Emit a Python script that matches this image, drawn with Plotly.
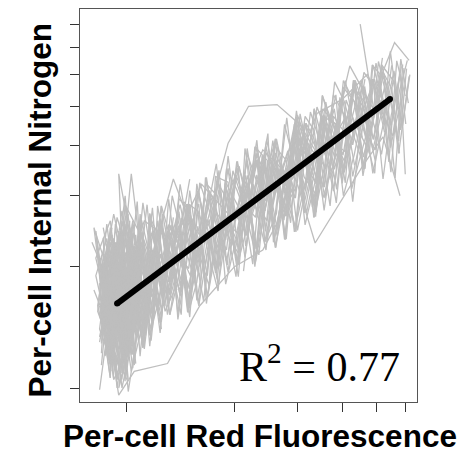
import plotly.graph_objects as go

# ---- per-cell trajectories: red fluorescence (x) vs internal nitrogen (y) ----
ax01 = [6.05, 5.82, 5.45, 5.23, 4.86, 4.63, 4.27, 4.08, 3.77, 3.58, 3.33, 3.17, 2.93, 2.80, 2.58, 2.47, 2.28, 2.18, 2.01, 1.92, 1.77, 1.70, 1.56, 1.50, 1.39, 1.33, 1.23, 1.18, 1.09, 1.05, 0.97, 0.94, 0.88, 0.86]
ay01 = [6.2, 4.37, 6.85, 4.56, 5.84, 3.5, 4.68, 5.79, 3.49, 4.53, 2.65, 4.54, 3.31, 4.68, 2.55, 3.37, 2.0, 3.37, 2.7, 3.76, 1.93, 2.62, 2.06, 2.86, 1.52, 2.33, 1.85, 2.8, 1.44, 2.08, 1.09, 2.17, 1.56, 1.9]
ax02 = [5.75, 5.55, 5.15, 4.95, 4.55, 4.34, 4.0, 3.84, 3.52, 3.38, 3.12, 2.98, 2.75, 2.62, 2.43, 2.32, 2.14, 2.05, 1.88, 1.81, 1.66, 1.6, 1.47, 1.42, 1.3, 1.25, 1.16, 1.11, 1.03, 0.99, 0.92, 0.9, 0.84]
ay02 = [4.91, 5.80, 6.34, 3.90, 4.44, 5.80, 3.22, 4.52, 4.73, 3.22, 3.63, 4.87, 2.61, 3.67, 2.75, 3.82, 2.95, 1.89, 3.11, 2.36, 3.33, 1.88, 2.42, 2.64, 1.52, 1.95, 2.71, 1.26, 1.99, 1.50, 2.09, 1.06, 1.67]
ax03 = [6.15, 5.75, 5.52, 5.17, 4.93, 4.57, 4.33, 4.02, 3.83, 3.52, 3.37, 3.13, 2.97, 2.76, 2.62, 2.43, 2.31, 2.14, 2.04, 1.89, 1.8, 1.67, 1.59, 1.48, 1.41, 1.31, 1.25, 1.16, 1.11, 1.03, 0.99, 0.92, 0.9, 0.84]
ay03 = [5.93, 3.82, 5.01, 6.08, 4.87, 3.36, 5.58, 3.78, 4.32, 5.32, 3.03, 3.34, 4.18, 2.34, 3.51, 3.06, 3.97, 2.39, 2.03, 2.98, 3.22, 2.14, 1.60, 2.31, 2.85, 2.23, 1.56, 2.24, 2.88, 1.47, 1.75, 2.25, 1.17, 1.75]
ax04 = [5.4, 5.25, 4.85, 4.65, 4.25, 4.1, 3.75, 3.6, 3.3, 3.18, 2.92, 2.81, 2.57, 2.48, 2.27, 2.18, 2.0, 1.92, 1.77, 1.7, 1.56, 1.5, 1.38, 1.33, 1.22, 1.18, 1.08, 1.05, 0.97, 0.94, 0.88, 0.86]
ay04 = [4.22, 5.83, 6.33, 4.20, 3.12, 4.72, 4.11, 5.12, 3.22, 2.72, 4.18, 3.51, 2.30, 4.28, 2.79, 3.09, 2.16, 3.24, 3.35, 1.79, 2.29, 1.50, 2.53, 1.83, 2.83, 1.46, 1.89, 2.25, 1.17, 1.93, 1.48, 2.36]
ax05 = [6.0, 5.85, 5.45, 5.25, 4.88, 4.62, 4.28, 4.07, 3.78, 3.57, 3.34, 3.16, 2.94, 2.79, 2.59, 2.46, 2.29, 2.17, 2.02, 1.91, 1.78, 1.69, 1.57, 1.5, 1.4, 1.32, 1.24, 1.17, 1.1, 1.04, 0.98, 0.93, 0.89, 0.85]
ay05 = [3.39, 5.19, 3.95, 5.58, 4.14, 5.60, 2.90, 4.29, 4.73, 3.15, 4.93, 3.27, 2.44, 3.67, 3.99, 2.60, 2.94, 3.93, 1.89, 2.46, 2.73, 3.09, 1.83, 1.58, 2.53, 2.03, 2.63, 1.40, 1.71, 2.60, 1.17, 1.93, 2.26, 1.29]
ax06 = [5.18, 4.92, 4.58, 4.32, 4.03, 3.82, 3.53, 3.36, 3.14, 2.96, 2.77, 2.61, 2.44, 2.31, 2.15, 2.04, 1.89, 1.8, 1.67, 1.59, 1.48, 1.41, 1.31, 1.25, 1.16, 1.11, 1.03, 0.99, 0.92, 0.9, 0.84]
ay06 = [6.59, 4.87, 3.74, 5.13, 5.79, 3.70, 2.96, 3.98, 4.54, 2.96, 3.34, 2.23, 3.67, 3.23, 2.25, 3.65, 2.33, 2.60, 1.62, 2.86, 2.42, 1.79, 2.94, 1.76, 1.35, 2.25, 1.82, 1.34, 2.09, 1.56, 0.99]
ax07 = [5.85, 5.48, 5.22, 4.87, 4.62, 4.3, 4.05, 3.81, 3.54, 3.36, 3.14, 2.96, 2.77, 2.61, 2.44, 2.3, 2.15, 2.03, 1.9, 1.78, 1.68, 1.58, 1.48, 1.41, 1.31, 1.24, 1.17, 1.1, 1.04, 0.97, 0.94, 0.88, 0.86]
ay07 = [6.28, 4.48, 5.07, 6.33, 3.50, 4.24, 5.15, 5.75, 3.15, 3.79, 4.17, 2.51, 3.01, 4.15, 3.37, 2.21, 3.37, 2.70, 2.07, 3.60, 2.74, 2.06, 1.54, 2.22, 2.54, 1.60, 2.06, 2.43, 1.30, 1.67, 1.93, 1.25, 2.05]
ax08 = [4.95, 4.55, 4.35, 4.0, 3.85, 3.5, 3.38, 3.12, 2.97, 2.75, 2.63, 2.42, 2.32, 2.14, 2.05, 1.88, 1.81, 1.66, 1.6, 1.47, 1.42, 1.3, 1.25, 1.16, 1.11, 1.03, 0.99, 0.92, 0.9, 0.85]
ay08 = [3.65, 5.14, 5.80, 4.08, 2.88, 4.73, 3.98, 3.09, 4.70, 3.34, 2.49, 3.67, 2.65, 3.93, 2.03, 2.72, 3.10, 2.02, 2.29, 2.86, 1.52, 2.23, 1.85, 2.71, 1.44, 2.08, 1.04, 1.77, 2.03, 1.37]
ax09 = [6.08, 5.78, 5.53, 5.18, 4.92, 4.58, 4.32, 4.03, 3.82, 3.53, 3.36, 3.14, 2.96, 2.77, 2.61, 2.44, 2.31, 2.15, 2.04, 1.89, 1.8, 1.67, 1.59, 1.48, 1.41, 1.31, 1.25, 1.16, 1.11, 1.03, 0.99, 0.92, 0.9, 0.84]
ay09 = [6.50, 5.46, 4.22, 4.82, 5.84, 4.90, 3.79, 3.00, 4.52, 4.93, 3.79, 2.90, 4.52, 3.01, 2.39, 3.52, 2.94, 2.39, 3.51, 2.85, 1.74, 2.26, 3.09, 2.20, 1.69, 2.44, 2.83, 1.68, 1.26, 1.90, 2.17, 1.53, 1.12, 1.82]
ax10 = [5.55, 5.15, 4.95, 4.55, 4.34, 4.0, 3.84, 3.52, 3.38, 3.12, 2.98, 2.75, 2.62, 2.43, 2.32, 2.14, 2.05, 1.88, 1.81, 1.66, 1.6, 1.47, 1.42, 1.3, 1.25, 1.16, 1.11, 1.03, 0.99, 0.92, 0.9, 0.84]
ay10 = [5.80, 3.80, 4.38, 5.60, 4.46, 3.43, 5.34, 3.74, 2.73, 4.17, 4.70, 2.84, 3.19, 2.30, 3.68, 3.09, 2.16, 2.46, 3.47, 1.79, 2.40, 2.64, 1.73, 2.03, 2.54, 1.27, 2.07, 1.56, 2.51, 1.29, 1.64, 1.90]
ax11 = [4.63, 4.28, 4.07, 3.78, 3.57, 3.34, 3.16, 2.94, 2.79, 2.59, 2.46, 2.29, 2.17, 2.02, 1.91, 1.78, 1.69, 1.57, 1.5, 1.4, 1.32, 1.24, 1.17, 1.1, 1.04, 0.98, 0.93, 0.89, 0.85]
ay11 = [5.84, 4.01, 4.72, 3.08, 3.94, 4.93, 3.09, 4.00, 2.34, 3.35, 4.13, 2.65, 2.81, 3.38, 2.02, 2.73, 2.26, 3.21, 1.76, 2.11, 2.44, 1.37, 2.06, 2.61, 1.47, 1.67, 2.01, 1.17, 1.67]
ax12 = [6.12, 5.83, 5.47, 5.22, 4.87, 4.61, 4.29, 4.06, 3.79, 3.56, 3.34, 3.15, 2.94, 2.78, 2.6, 2.45, 2.3, 2.16, 2.03, 1.9, 1.79, 1.68, 1.58, 1.49, 1.4, 1.32, 1.24, 1.17, 1.1, 1.04, 0.98, 0.93, 0.89, 0.85]
ay12 = [5.09, 6.55, 3.43, 5.07, 3.90, 5.14, 5.58, 3.86, 4.11, 2.76, 4.36, 4.72, 2.96, 3.34, 3.83, 2.20, 2.79, 3.09, 3.65, 2.20, 2.48, 1.67, 2.75, 2.86, 1.90, 1.52, 2.05, 2.43, 1.53, 1.21, 2.00, 1.61, 2.34, 1.22]
ax13 = [4.33, 4.02, 3.83, 3.52, 3.37, 3.13, 2.97, 2.76, 2.62, 2.43, 2.31, 2.14, 2.04, 1.89, 1.8, 1.67, 1.59, 1.48, 1.41, 1.31, 1.25, 1.16, 1.11, 1.03, 0.99, 0.92, 0.9, 0.84]
ay13 = [3.57, 5.15, 4.11, 5.32, 3.22, 3.99, 2.44, 3.34, 4.15, 2.75, 3.38, 2.11, 2.84, 3.24, 2.11, 3.33, 2.29, 1.58, 2.43, 1.83, 2.54, 1.96, 1.26, 2.08, 1.50, 2.33, 1.06, 1.60]
ax14 = [5.78, 5.5, 5.2, 4.9, 4.6, 4.3, 4.05, 3.8, 3.55, 3.35, 3.15, 2.95, 2.78, 2.6, 2.45, 2.3, 2.16, 2.03, 1.9, 1.79, 1.68, 1.58, 1.49, 1.4, 1.32, 1.24, 1.17, 1.1, 1.04, 0.98, 0.93, 0.89, 0.85]
ay14 = [3.82, 5.53, 6.08, 4.14, 4.67, 5.80, 3.43, 3.90, 4.53, 2.84, 3.81, 4.35, 3.01, 2.23, 3.37, 3.82, 2.39, 2.70, 3.11, 1.86, 2.50, 3.09, 1.98, 2.11, 1.52, 2.34, 2.62, 1.53, 1.82, 1.17, 2.09, 1.72, 1.14]
ax15 = [4.08, 3.77, 3.58, 3.33, 3.17, 2.93, 2.8, 2.58, 2.47, 2.28, 2.18, 2.01, 1.92, 1.77, 1.7, 1.56, 1.5, 1.39, 1.33, 1.23, 1.18, 1.09, 1.05, 0.97, 0.94, 0.88, 0.86]
ay15 = [5.58, 4.11, 2.96, 4.17, 4.54, 3.13, 3.51, 2.30, 3.67, 3.97, 2.39, 2.70, 1.94, 2.85, 3.09, 2.06, 2.31, 1.48, 2.54, 1.95, 1.50, 2.70, 1.56, 1.92, 1.21, 2.03, 1.44]
ax16 = [5.95, 5.75, 5.42, 5.15, 4.93, 4.57, 4.33, 4.02, 3.83, 3.52, 3.37, 3.13, 2.97, 2.76, 2.62, 2.43, 2.31, 2.14, 2.04, 1.89, 1.8, 1.67, 1.59, 1.48, 1.41, 1.31, 1.25, 1.16, 1.11, 1.03, 0.99, 0.92, 0.9, 0.84]
ay16 = [6.22, 4.10, 5.27, 6.34, 3.41, 4.44, 5.13, 5.58, 3.29, 3.94, 2.73, 4.36, 3.48, 4.51, 2.71, 2.30, 3.68, 2.95, 2.43, 1.81, 2.98, 3.21, 2.29, 1.76, 2.32, 2.54, 1.46, 1.78, 2.34, 1.82, 1.25, 2.25, 1.79, 1.34]
ax17 = [5.25, 4.88, 4.62, 4.28, 4.07, 3.78, 3.57, 3.34, 3.16, 2.94, 2.79, 2.59, 2.46, 2.29, 2.17, 2.02, 1.91, 1.78, 1.69, 1.57, 1.5, 1.4, 1.32, 1.24, 1.17, 1.1, 1.04, 0.98, 0.93, 0.89, 0.85]
ay17 = [4.31, 5.84, 4.67, 3.35, 4.72, 5.34, 3.55, 2.65, 3.81, 4.18, 2.67, 3.67, 2.91, 2.06, 3.65, 2.70, 2.98, 1.93, 2.38, 1.65, 2.75, 2.95, 1.73, 2.15, 1.68, 2.16, 1.12, 1.67, 2.17, 1.25, 1.60]
ax18 = [5.5, 5.22, 4.87, 4.61, 4.29, 4.06, 3.79, 3.56, 3.34, 3.15, 2.94, 2.78, 2.6, 2.45, 2.3, 2.16, 2.03, 1.9, 1.79, 1.68, 1.58, 1.49, 1.4, 1.32, 1.24, 1.17, 1.1, 1.04, 0.98, 0.93, 0.89, 0.85]
ay18 = [6.32, 4.56, 3.41, 4.90, 5.58, 3.65, 4.11, 4.73, 2.84, 3.63, 4.52, 2.67, 3.51, 3.83, 2.12, 2.67, 3.11, 3.50, 1.98, 2.38, 2.75, 1.65, 2.74, 1.83, 2.15, 1.31, 2.43, 1.73, 1.34, 2.01, 1.40, 2.13]
ax19 = [3.82, 3.53, 3.36, 3.14, 2.96, 2.77, 2.61, 2.44, 2.31, 2.15, 2.04, 1.89, 1.8, 1.67, 1.59, 1.48, 1.41, 1.31, 1.25, 1.16, 1.11, 1.03, 0.99, 0.92, 0.9, 0.84]
ay19 = [3.70, 4.73, 3.79, 2.72, 4.52, 3.17, 3.51, 2.45, 4.12, 2.81, 2.03, 3.24, 2.23, 2.62, 1.60, 2.86, 2.11, 1.62, 2.83, 1.68, 2.16, 1.21, 1.84, 1.37, 1.95, 1.52]
ax20 = [6.02, 5.8, 5.48, 5.2, 4.9, 4.6, 4.3, 4.05, 3.8, 3.55, 3.35, 3.15, 2.95, 2.78, 2.6, 2.45, 2.3, 2.16, 2.03, 1.9, 1.79, 1.68, 1.58, 1.49, 1.4, 1.32, 1.24, 1.17, 1.1, 1.04, 0.98, 0.93, 0.89, 0.85]
ay20 = [4.52, 6.01, 4.74, 3.30, 5.60, 6.07, 4.24, 3.43, 4.93, 3.94, 3.22, 2.54, 4.35, 3.67, 3.03, 3.98, 2.21, 3.23, 2.43, 2.59, 3.35, 1.90, 2.52, 1.54, 2.53, 2.03, 2.54, 1.53, 2.07, 2.42, 1.50, 1.13, 1.87, 1.52]

# cells that stay in the low-fluorescence cluster
cx01 = [1.45, 1.32, 1.21, 1.15, 1.05, 0.98, 1.02, 0.94, 0.88, 0.92, 0.85, 0.96, 1.08, 1.0, 0.91, 0.83, 0.89, 0.97, 1.12, 1.03, 0.93, 0.87]
cy01 = [2.9, 1.7, 2.5, 1.45, 2.2, 1.15, 2.6, 1.35, 2.0, 1.05, 1.8, 2.4, 1.3, 1.9, 1.2, 2.2, 1.6, 2.75, 1.5, 1.1, 2.1, 1.4]
cx02 = [1.38, 1.26, 1.19, 1.1, 1.01, 0.95, 0.9, 0.99, 0.86, 0.93, 1.04, 0.97, 0.88, 0.82, 0.91, 1.06, 0.95, 1.14, 1.0, 0.89, 0.84]
cy02 = [1.75, 2.7, 1.5, 2.3, 1.25, 2.05, 1.4, 2.55, 1.7, 1.1, 1.95, 1.3, 2.35, 1.9, 1.25, 2.2, 1.0, 1.8, 2.45, 1.5, 2.1]
cx03 = [1.52, 1.41, 1.3, 1.22, 1.12, 1.07, 0.99, 0.93, 1.01, 0.9, 0.84, 0.95, 1.05, 0.98, 0.87, 0.92, 1.1, 1.02, 0.94, 0.81]
cy03 = [2.2, 3.2, 1.65, 2.6, 1.4, 2.9, 1.55, 2.25, 1.05, 1.8, 1.3, 2.45, 1.6, 1.15, 2.05, 2.7, 1.35, 2.15, 1.25, 1.75]
cx04 = [1.33, 1.24, 1.16, 1.09, 1.03, 0.96, 0.91, 0.97, 1.06, 0.99, 0.89, 0.85, 0.93, 1.01, 1.11, 0.95, 0.88, 0.83, 0.92, 1.0, 0.96]
cy04 = [2.4, 1.45, 2.15, 1.2, 2.5, 1.65, 1.1, 2.0, 1.4, 3.0, 1.35, 1.6, 2.3, 0.98, 1.7, 1.5, 2.55, 1.55, 1.2, 1.85, 2.35]
cx05 = [1.6, 1.47, 1.36, 1.28, 1.18, 1.11, 1.04, 0.97, 0.92, 1.0, 0.87, 0.94, 1.08, 0.99, 0.9, 0.85, 0.96, 1.03, 0.93, 0.8]
cy05 = [2.0, 2.85, 1.75, 1.55, 2.45, 1.3, 1.95, 2.6, 1.25, 1.55, 2.15, 1.0, 2.3, 1.75, 1.45, 2.0, 1.15, 2.4, 1.65, 2.3]
cx06 = [1.28, 1.2, 1.13, 1.05, 0.98, 0.93, 0.88, 0.95, 1.02, 1.09, 0.97, 0.9, 0.84, 0.91, 0.99, 1.05, 0.94, 0.86, 0.92, 1.0]
cy06 = [1.6, 2.3, 1.35, 2.05, 1.7, 2.55, 1.3, 1.15, 2.2, 1.5, 1.85, 1.35, 1.95, 2.4, 1.1, 1.9, 2.65, 1.45, 1.7, 1.3]
cx07 = [1.42, 1.3, 1.22, 1.14, 1.06, 1.0, 0.94, 0.89, 0.96, 1.04, 0.92, 0.86, 0.82, 0.9, 0.98, 1.07, 1.13, 1.0, 0.93, 0.88]
cy07 = [1.85, 2.45, 1.55, 2.85, 1.65, 1.2, 2.1, 1.6, 2.45, 1.3, 1.05, 1.75, 2.1, 2.6, 1.4, 2.0, 1.45, 2.8, 1.6, 1.25]
cx08 = [1.5, 1.37, 1.27, 1.18, 1.12, 1.03, 0.97, 0.92, 0.87, 0.95, 1.01, 0.9, 0.83, 0.88, 0.97, 1.09, 1.02, 0.94, 0.86, 0.91]
cy08 = [3.3, 2.1, 1.6, 2.2, 1.3, 2.35, 1.45, 1.95, 1.2, 1.6, 2.7, 1.15, 1.6, 2.25, 1.0, 1.65, 2.05, 1.35, 1.85, 2.5]
cx09 = [1.2, 1.12, 1.06, 0.99, 0.94, 0.89, 0.85, 0.92, 1.0, 1.08, 1.15, 1.03, 0.96, 0.9, 0.87, 0.93, 1.01, 0.97, 0.84]
cy09 = [2.1, 1.25, 2.4, 1.6, 1.05, 1.85, 1.5, 2.35, 1.2, 1.9, 1.5, 3.4, 1.75, 1.3, 2.0, 1.4, 2.2, 1.05, 1.7]
cx10 = [1.55, 1.44, 1.34, 1.26, 1.17, 1.1, 1.02, 0.96, 0.9, 0.86, 0.93, 0.99, 1.06, 0.95, 0.89, 0.82, 0.87, 0.95, 1.04, 0.98]
cy10 = [1.85, 2.3, 3.0, 1.7, 2.25, 1.4, 2.05, 1.25, 2.5, 1.7, 1.35, 2.0, 1.15, 2.2, 1.45, 2.45, 1.3, 1.6, 2.6, 1.2]
cx11 = [1.35, 1.25, 1.17, 1.08, 1.02, 0.95, 0.9, 0.84, 0.91, 0.98, 1.05, 1.12, 0.99, 0.93, 0.88, 0.96, 1.04, 0.94, 0.89, 0.85]
cy11 = [2.65, 1.5, 1.95, 2.55, 1.35, 1.75, 2.3, 1.4, 1.15, 2.0, 1.6, 2.3, 2.85, 1.5, 1.25, 2.15, 1.45, 1.05, 1.9, 1.65]
cx12 = [1.25, 1.16, 1.1, 1.02, 0.96, 0.91, 0.87, 0.81, 0.86, 0.94, 1.0, 1.07, 0.98, 0.92, 0.88, 0.95, 1.03, 1.1, 0.97, 0.9]
cy12 = [1.4, 2.2, 1.7, 1.25, 2.3, 1.55, 2.05, 2.5, 1.65, 2.0, 1.1, 1.75, 2.5, 1.2, 1.5, 2.25, 1.3, 2.0, 1.55, 2.15]

# cells seen only over part of the range
mx01 = [6.18, 5.88, 5.58, 5.28, 4.97, 4.66, 4.36, 4.1, 3.86, 3.6, 3.4, 3.2, 3.0, 2.82, 2.64, 2.48]
my01 = [5.99, 4.41, 6.12, 4.86, 6.40, 4.00, 4.50, 5.18, 3.11, 4.37, 4.98, 3.31, 2.46, 3.88, 3.23, 2.47]
mx02 = [6.0, 5.68, 5.4, 5.12, 4.8, 4.52, 4.25, 3.98, 3.74, 3.5, 3.3, 3.1, 2.91, 2.73, 2.56, 2.4, 2.26, 2.12]
my02 = [5.30, 6.48, 3.64, 5.52, 4.32, 5.78, 4.64, 3.31, 4.87, 3.71, 2.81, 4.49, 3.45, 2.81, 4.11, 2.73, 3.20, 1.95]
mx03 = [3.6, 3.4, 3.2, 3.0, 2.82, 2.65, 2.49, 2.34, 2.2, 2.06, 1.93, 1.81, 1.7, 1.6, 1.51, 1.42, 1.34]
my03 = [4.96, 3.26, 4.05, 4.75, 2.70, 3.24, 3.72, 2.14, 2.71, 3.55, 2.74, 2.00, 2.76, 3.23, 1.89, 2.13, 2.56]
mx04 = [4.85, 4.58, 4.32, 4.05, 3.8, 3.58, 3.37, 3.17, 2.98, 2.8, 2.63, 2.47, 2.32, 2.18, 2.05, 1.92, 1.8, 1.69]
my04 = [5.57, 3.48, 5.80, 4.29, 3.49, 4.75, 2.66, 3.83, 4.55, 3.02, 3.54, 2.31, 3.69, 2.83, 2.18, 3.51, 2.37, 1.72]
mx05 = [3.12, 2.94, 2.77, 2.6, 2.45, 2.31, 2.17, 2.04, 1.92, 1.8, 1.7, 1.6, 1.5, 1.41, 1.33, 1.25, 1.18, 1.11, 1.05]
my05 = [2.89, 3.99, 2.33, 4.15, 2.91, 3.25, 3.81, 2.30, 2.60, 1.79, 3.00, 2.08, 3.09, 1.70, 2.14, 2.55, 1.41, 2.17, 1.14]
mx06 = [5.9, 5.62, 5.35, 5.05, 4.76, 4.48, 4.2, 3.94, 3.7, 3.47, 3.26, 3.06]
my06 = [6.35, 3.32, 5.17, 6.46, 3.82, 5.04, 3.95, 5.26, 2.83, 4.07, 4.84, 3.03]
mx07 = [4.55, 4.3, 4.08, 3.85, 3.63, 3.43, 3.24, 3.05, 2.87, 2.7, 2.54, 2.39, 2.25, 2.11, 1.98, 1.86, 1.75, 1.64, 1.54, 1.45]
my07 = [4.18, 5.80, 3.23, 4.36, 4.79, 3.26, 3.70, 4.79, 2.57, 3.61, 2.83, 3.78, 2.03, 2.91, 3.46, 2.17, 2.82, 1.64, 2.25, 2.81]
mx08 = [4.49, 4.9, 4.2, 3.6, 3.05, 2.63, 2.19, 1.92, 1.6, 1.35, 1.1, 0.95, 1.0, 0.86]
my08 = [8.0, 4.9, 6.3, 3.5, 4.5, 5.05, 5.0, 4.05, 2.2, 3.3, 1.7, 3.4, 1.2, 2.5]
mx09 = [5.8, 5.2, 4.6, 3.36, 3.0, 2.4, 2.0, 1.6, 1.3, 1.05, 0.95, 0.9, 1.0]
my09 = [3.0, 4.2, 3.6, 2.29, 3.2, 2.2, 2.0, 1.6, 1.15, 1.1, 0.96, 1.3, 1.05]
mx10 = [6.15, 5.6, 5.0, 5.5, 4.7, 4.0, 3.4, 2.9, 2.4, 2.0, 1.62, 1.35, 1.12, 0.98, 0.84]
my10 = [6.5, 7.2, 5.6, 4.5, 6.0, 5.2, 4.8, 3.3, 3.9, 2.6, 3.2, 2.3, 2.6, 1.8, 1.5]

# fitted relationship (log-log regression), end points
fit_x = [0.94, 5.44]
fit_y = [1.62, 5.21]
r_squared = "0.77"

# axis ticks (log scale, unlabelled)
x_ticks = [1, 2, 3, 4, 5, 6]
y_ticks = [1, 2, 3, 4, 5, 6, 7, 8]

cells = [
    (ax01, ay01), (ax02, ay02), (ax03, ay03), (ax04, ay04), (ax05, ay05),
    (ax06, ay06), (ax07, ay07), (ax08, ay08), (ax09, ay09), (ax10, ay10),
    (ax11, ay11), (ax12, ay12), (ax13, ay13), (ax14, ay14), (ax15, ay15),
    (ax16, ay16), (ax17, ay17), (ax18, ay18), (ax19, ay19), (ax20, ay20),
    (cx01, cy01), (cx02, cy02), (cx03, cy03), (cx04, cy04), (cx05, cy05),
    (cx06, cy06), (cx07, cy07), (cx08, cy08), (cx09, cy09), (cx10, cy10),
    (cx11, cy11), (cx12, cy12),
    (mx01, my01), (mx02, my02), (mx03, my03), (mx04, my04), (mx05, my05),
    (mx06, my06), (mx07, my07), (mx08, my08), (mx09, my09), (mx10, my10),
]

gx, gy = [], []
for cx, cy in cells:
    n = min(len(cx), len(cy))
    gx += list(cx[:n]) + [None]
    gy += list(cy[:n]) + [None]

fig = go.Figure()
fig.add_trace(go.Scatter(x=gx, y=gy, mode="lines",
                         line=dict(color="#BEBEBE", width=1.3),
                         connectgaps=False, hoverinfo="skip", showlegend=False))
fig.add_trace(go.Scatter(x=fit_x, y=fit_y, mode="lines+markers",
                         line=dict(color="black", width=6),
                         marker=dict(color="black", size=6),
                         hoverinfo="skip", showlegend=False))

W, H = 466, 453
L, R, T, B = 80, 49, 9, 51
pw, ph = W - L - R, H - T - B

def px_x(p):
    return (p - L) / pw

def px_y(p):
    return (H - B - p) / ph

axis_common = dict(showgrid=False, zeroline=False, showticklabels=False,
                   ticks="outside", ticklen=9, tickwidth=1.2, tickcolor="#333333",
                   showline=True, linecolor="#555555", linewidth=1.3, mirror=True)

fig.update_xaxes(type="log", range=[-0.1304, 0.8109], tickmode="array",
                 tickvals=x_ticks, **axis_common)
fig.update_yaxes(type="log", range=[-0.0347, 0.9404], tickmode="array",
                 tickvals=y_ticks, **axis_common)

title_font = dict(family="Liberation Sans, Arial, sans-serif", size=31.5, color="black")
fig.add_annotation(text="<b>Per-cell Red Fluorescence</b>", xref="paper", yref="paper",
                   x=px_x(259.7), y=px_y(436), xanchor="center", yanchor="middle",
                   showarrow=False, font=title_font)
fig.add_annotation(text="<b>Per-cell Internal Nitrogen</b>", xref="paper", yref="paper",
                   x=px_x(39.5), y=px_y(210), xanchor="center", yanchor="middle",
                   textangle=-90, showarrow=False, font=title_font)
fig.add_annotation(text="R<sup>2</sup> = " + r_squared, xref="paper", yref="paper",
                   x=px_x(402), y=px_y(363), xanchor="right", yanchor="middle",
                   showarrow=False,
                   font=dict(family="Liberation Serif, Times New Roman, serif", size=42, color="black"))

fig.update_layout(width=W, height=H, margin=dict(l=L, r=R, t=T, b=B, pad=0),
                  paper_bgcolor="white", plot_bgcolor="white", showlegend=False)

fig.write_html("out.html")
